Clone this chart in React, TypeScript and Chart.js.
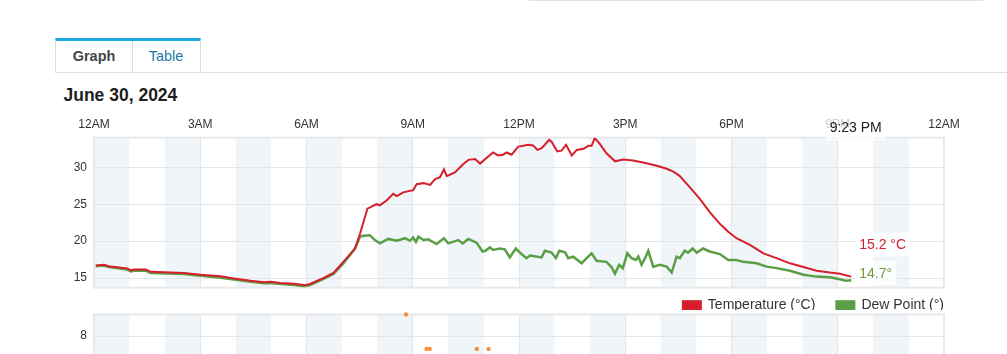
import React, { useEffect, useRef } from "react";
import { Chart, registerables } from "chart.js";

Chart.register(...registerables);

// ---------- data ----------
const tempHours = [
  0.05, 0.28, 0.42, 0.94, 1.04, 1.13, 1.46, 1.6, 2.0, 2.54, 3.01, 3.58, 3.95, 4.42, 4.8, 4.99, 5.27, 5.65, 5.93,
  6.1, 6.47, 6.76, 7.04, 7.37, 7.51, 7.72, 7.98, 8.07, 8.26, 8.45, 8.55, 8.73, 9.01, 9.11, 9.3, 9.49, 9.63, 9.77,
  9.88, 9.96, 10.19, 10.43, 10.57, 10.76, 10.9, 11.09, 11.27, 11.41, 11.55, 11.65, 11.79, 11.98, 12.12, 12.26,
  12.4, 12.52, 12.64, 12.73, 12.85, 12.92, 13.08, 13.2, 13.33, 13.49, 13.63, 13.82, 13.96, 14.05, 14.14, 14.28,
  14.47, 14.71, 14.94, 15.22, 15.6, 15.89, 16.17, 16.36, 16.54, 16.82, 17.1, 17.38, 17.66, 17.9, 18.14, 18.52,
  18.9, 19.27, 19.65, 20.03, 20.4, 20.78, 21.06, 21.38,
];
const tempValues = [
  16.7, 16.8, 16.6, 16.3, 16.05, 16.15, 16.15, 15.85, 15.8, 15.7, 15.45, 15.25, 14.95, 14.65, 14.45, 14.5, 14.35,
  14.25, 14.05, 14.2, 15.0, 15.7, 17.2, 19.0, 21.0, 24.4, 25.0, 24.85, 25.5, 26.4, 26.1, 26.6, 26.9, 27.7, 27.85,
  27.6, 28.4, 28.65, 29.7, 28.8, 29.3, 30.45, 31.0, 31.1, 30.5, 31.3, 32.0, 31.6, 31.7, 32.0, 31.7, 32.8, 32.9,
  33.05, 32.95, 32.35, 32.6, 33.05, 33.7, 33.45, 32.15, 32.25, 33.05, 31.6, 32.35, 32.5, 32.9, 32.9, 33.95, 33.15,
  31.9, 30.8, 31.05, 30.9, 30.55, 30.2, 29.8, 29.4, 28.8, 27.3, 25.75, 23.95, 22.4, 21.3, 20.4, 19.5, 18.35, 17.7,
  17.0, 16.5, 16.0, 15.75, 15.6, 15.2,
];
const dewHours = [
  0.05, 0.28, 0.42, 0.94, 1.04, 1.13, 1.46, 1.6, 2.54, 3.01, 3.58, 3.95, 4.42, 4.8, 4.99, 5.27, 5.65, 5.93, 6.1,
  6.47, 6.76, 7.04, 7.37, 7.51, 7.56, 7.79, 7.93, 8.07, 8.31, 8.55, 8.78, 8.92, 9.01, 9.09, 9.16, 9.3, 9.44, 9.67,
  9.88, 10.0, 10.29, 10.41, 10.57, 10.8, 10.97, 11.05, 11.18, 11.27, 11.46, 11.6, 11.74, 11.91, 12.07, 12.21,
  12.31, 12.64, 12.73, 12.92, 13.04, 13.14, 13.3, 13.39, 13.53, 13.77, 13.91, 14.05, 14.19, 14.47, 14.61, 14.71,
  14.83, 14.93, 15.06, 15.18, 15.3, 15.37, 15.46, 15.56, 15.65, 15.79, 15.98, 16.17, 16.31, 16.45, 16.54, 16.68,
  16.77, 16.9, 17.02, 17.2, 17.38, 17.67, 17.91, 18.14, 18.33, 18.71, 18.99, 19.27, 19.65, 20.03, 20.4, 20.78,
  21.06, 21.23, 21.38,
];
const dewValues = [
  16.6, 16.7, 16.5, 16.15, 15.9, 16.0, 16.0, 15.7, 15.55, 15.3, 15.05, 14.8, 14.5, 14.3, 14.35, 14.2, 14.05, 13.9,
  14.05, 14.85, 15.55, 17.0, 19.0, 20.6, 20.7, 20.8, 20.15, 19.7, 20.3, 20.05, 20.4, 20.05, 20.5, 19.9, 20.6,
  20.15, 20.25, 19.6, 20.4, 19.7, 20.15, 19.7, 20.3, 19.8, 18.6, 18.7, 19.15, 18.8, 19.0, 18.9, 17.8, 19.0, 18.25,
  17.7, 18.05, 17.8, 18.7, 18.45, 17.7, 18.7, 18.5, 17.7, 17.9, 17.0, 17.7, 18.35, 17.35, 17.2, 16.5, 15.6, 16.8,
  16.35, 18.35, 17.7, 17.45, 17.9, 16.8, 17.7, 18.7, 16.55, 16.8, 16.55, 15.75, 17.9, 17.7, 18.7, 18.45, 19.0,
  18.45, 19.0, 18.6, 18.25, 17.45, 17.45, 17.2, 17.0, 16.55, 16.35, 16.0, 15.45, 15.2, 15.1, 14.85, 14.65, 14.7,
];
const gustHours = [8.81, 9.39, 9.48, 10.81, 11.14];
const gustValues = [9, 7.4, 7.4, 7.4, 7.4];

const xTickHours = [0, 3, 6, 9, 12, 15, 18, 21, 24];
const xTickLabels = ["12AM", "3AM", "6AM", "9AM", "12PM", "3PM", "6PM", "9PM", "12AM"];
const yTicks = [15, 20, 25, 30];
const gustTicks = [0, 2, 4, 6, 8];
const seriesLabels = ["Temperature (°C)", "Dew Point (°)"];
const endLabels = ["15.2 °C", "14.7°"];
const cursorLabel = "9:23 PM";
const titleText = "June 30, 2024";
const tabLabels = ["Graph", "Table"];

// ---------- style ----------
const FONT = "'Liberation Sans', Arial, Helvetica, sans-serif";
const RED = "#d61f2b";
const GREEN = "#5a9e45";
const GREEN_TEXT = "#6f9c3c";
const ORANGE = "#f5923f";
const BAND = "#f0f5fa";
const GRID = "#e5e5e5";
const FRAME = "#e8e8e8";

const bandsPlugin = {
  id: "bands",
  beforeDraw(chart: any) {
    const { ctx, chartArea } = chart;
    const xs = chart.scales.x;
    ctx.save();
    ctx.fillStyle = BAND;
    for (let h = 0; h < 24; h += 2) {
      const a = xs.getPixelForValue(h);
      const b = xs.getPixelForValue(h + 1);
      ctx.fillRect(a, chartArea.top, b - a, chartArea.bottom - chartArea.top);
    }
    ctx.restore();
  },
  beforeDatasetsDraw(chart: any) {
    const { ctx, chartArea } = chart;
    ctx.save();
    ctx.strokeStyle = FRAME;
    ctx.lineWidth = 2;
    ctx.strokeRect(chartArea.left, chartArea.top, chartArea.right - chartArea.left, chartArea.bottom - chartArea.top);
    ctx.restore();
  },
};

const overlayPlugin = {
  id: "overlay",
  afterDraw(chart: any) {
    const { ctx, chartArea } = chart;
    const xs = chart.scales.x;
    const ys = chart.scales.y;
    ctx.save();
    ctx.font = `14px ${FONT}`;
    ctx.textBaseline = "middle";
    const lastX = xs.getPixelForValue(tempHours[tempHours.length - 1]);
    // end labels
    const tY = ys.getPixelForValue(tempValues[tempValues.length - 1]) - 32;
    const dY = ys.getPixelForValue(dewValues[dewValues.length - 1]) - 7.5;
    const items = [
      { text: endLabels[0], y: tY, color: RED },
      { text: endLabels[1], y: dY, color: GREEN_TEXT },
    ];
    for (const it of items) {
      const w = ctx.measureText(it.text).width;
      ctx.fillStyle = "rgba(255,255,255,0.8)";
      ctx.fillRect(lastX + 4, it.y - 12, w + 8, 24);
      ctx.fillStyle = it.color;
      ctx.textAlign = "left";
      ctx.fillText(it.text, lastX + 8, it.y + 1);
    }
    // cursor badge
    const cw = ctx.measureText(cursorLabel).width;
    const cx = lastX + 4.5;
    ctx.fillStyle = "rgba(255,255,255,0.75)";
    ctx.fillRect(cx - cw / 2 - 4, chartArea.top - 25, cw + 8, 28);
    ctx.fillStyle = "#222";
    ctx.textAlign = "center";
    ctx.textBaseline = "alphabetic";
    ctx.fillText(cursorLabel, cx, chartArea.top - 6);
    // legend
    ctx.textBaseline = "middle";
    ctx.textAlign = "left";
    const ly = chartArea.bottom + 17.5;
    let right = chartArea.right;
    const ds = chart.data.datasets;
    for (let i = ds.length - 1; i >= 0; i--) {
      const label = ds[i].label;
      const w = ctx.measureText(label).width;
      const tx = right - w;
      ctx.fillStyle = "#333";
      ctx.fillText(label, tx, ly);
      ctx.fillStyle = ds[i].borderColor;
      ctx.fillRect(tx - 26, ly - 5, 20, 10);
      right = tx - 26 - 20;
    }
    ctx.restore();
  },
};

function yFit(s: any) {
  s.width = 94;
  s.paddingTop = 0;
  s.paddingBottom = 0;
}

function makeMain(canvas: HTMLCanvasElement) {
  return new Chart(canvas, {
    type: "line",
    data: {
      datasets: [
        {
          label: seriesLabels[0],
          data: tempHours.map((h, i) => ({ x: h, y: tempValues[i] })),
          borderColor: RED,
          backgroundColor: RED,
          borderWidth: 2,
          pointRadius: 0,
          tension: 0,
        },
        {
          label: seriesLabels[1],
          data: dewHours.map((h, i) => ({ x: h, y: dewValues[i] })),
          borderColor: GREEN,
          backgroundColor: GREEN,
          borderWidth: 2.5,
          pointRadius: 0,
          tension: 0,
        },
      ],
    },
    options: {
      animation: false,
      responsive: false,
      events: [],
      layout: { padding: { left: 0, right: 63, top: 0, bottom: 22.3 } },
      plugins: { legend: { display: false }, tooltip: { enabled: false } },
      scales: {
        x: {
          type: "linear",
          position: "top",
          min: 0,
          max: 24,
          afterBuildTicks: (s: any) => {
            s.ticks = xTickHours.map((v) => ({ value: v }));
          },
          afterFit: (s: any) => {
            s.height = 27.7;
          },
          ticks: {
            callback: (_v: any, i: number) => xTickLabels[i],
            color: "#333",
            font: { size: 12, family: FONT },
            padding: 6,
            maxRotation: 0,
            autoSkip: false,
          },
          grid: { color: GRID, drawTicks: false },
          border: { display: false },
        },
        y: {
          type: "linear",
          min: 13.7,
          max: 34,
          afterBuildTicks: (s: any) => {
            s.ticks = yTicks.map((v) => ({ value: v }));
          },
          afterFit: yFit,
          ticks: { color: "#333", font: { size: 12, family: FONT }, padding: 7 },
          grid: { color: GRID, drawTicks: false },
          border: { display: false },
        },
      },
    } as any,
    plugins: [bandsPlugin, overlayPlugin],
  });
}

function makeGust(canvas: HTMLCanvasElement) {
  return new Chart(canvas, {
    type: "scatter",
    data: {
      datasets: [
        {
          label: "Gust",
          data: gustHours.map((h, i) => ({ x: h, y: gustValues[i] })),
          backgroundColor: ORANGE,
          borderColor: ORANGE,
          borderWidth: 0,
          pointRadius: 2.2,
          clip: false,
        } as any,
      ],
    },
    options: {
      animation: false,
      responsive: false,
      events: [],
      layout: { padding: { left: 0, right: 63, top: 0, bottom: 27 } },
      plugins: { legend: { display: false }, tooltip: { enabled: false } },
      scales: {
        x: {
          type: "linear",
          position: "top",
          min: 0,
          max: 24,
          afterBuildTicks: (s: any) => {
            s.ticks = xTickHours.map((v) => ({ value: v }));
          },
          afterFit: (s: any) => {
            s.height = 9.5;
          },
          ticks: { display: false },
          grid: { color: GRID, drawTicks: false },
          border: { display: false },
        },
        y: {
          type: "linear",
          min: 0,
          max: 9,
          afterBuildTicks: (s: any) => {
            s.ticks = gustTicks.map((v) => ({ value: v }));
          },
          afterFit: yFit,
          ticks: { color: "#333", font: { size: 12, family: FONT }, padding: 7 },
          grid: { color: GRID, drawTicks: false },
          border: { display: false },
        },
      },
    } as any,
    plugins: [bandsPlugin],
  });
}

export default function App() {
  const mainRef = useRef<HTMLCanvasElement>(null);
  const gustRef = useRef<HTMLCanvasElement>(null);

  useEffect(() => {
    Chart.defaults.font.family = FONT;
    const c1 = makeMain(mainRef.current!);
    const c2 = makeGust(gustRef.current!);
    return () => {
      c1.destroy();
      c2.destroy();
    };
  }, []);

  const tabBase: React.CSSProperties = {
    position: "absolute",
    top: 38,
    height: 26,
    borderTop: "3px solid #1ba9df",
    boxSizing: "content-box",
    fontSize: 14.5,
    lineHeight: "20px",
    textAlign: "center",
    paddingTop: 5,
  };

  return (
    <div
      style={{
        position: "absolute",
        left: 0,
        top: 0,
        width: 1007,
        height: 354,
        overflow: "hidden",
        background: "#fff",
        fontFamily: FONT,
      }}
    >
      <div style={{ position: "absolute", left: 529, top: 0, width: 454, height: 1, background: "#e3e3e3" }} />
      <div
        style={{
          ...tabBase,
          left: 55,
          width: 76,
          borderLeft: "1px solid #dddddd",
          borderRight: "1px solid #dddddd",
          fontWeight: "bold",
          color: "#444",
        }}
      >
        {tabLabels[0]}
      </div>
      <div
        style={{
          ...tabBase,
          left: 132,
          width: 68,
          borderRight: "1px solid #dddddd",
          color: "#1a7aae",
        }}
      >
        {tabLabels[1]}
      </div>
      <div style={{ position: "absolute", left: 55, top: 72, width: 952, height: 1, background: "#dddddd" }} />
      <div
        style={{
          position: "absolute",
          left: 63.5,
          top: 83.6,
          fontSize: 17.5,
          lineHeight: "22px",
          fontWeight: "bold",
          color: "#1e1e1e",
          whiteSpace: "nowrap",
        }}
      >
        {titleText}
      </div>
      <canvas
        ref={mainRef}
        width={1007}
        height={200}
        style={{ position: "absolute", left: 0, top: 110, width: 1007, height: 200 }}
      />
      <canvas
        ref={gustRef}
        width={1007}
        height={230}
        style={{ position: "absolute", left: 0, top: 305, width: 1007, height: 230 }}
      />
    </div>
  );
}
